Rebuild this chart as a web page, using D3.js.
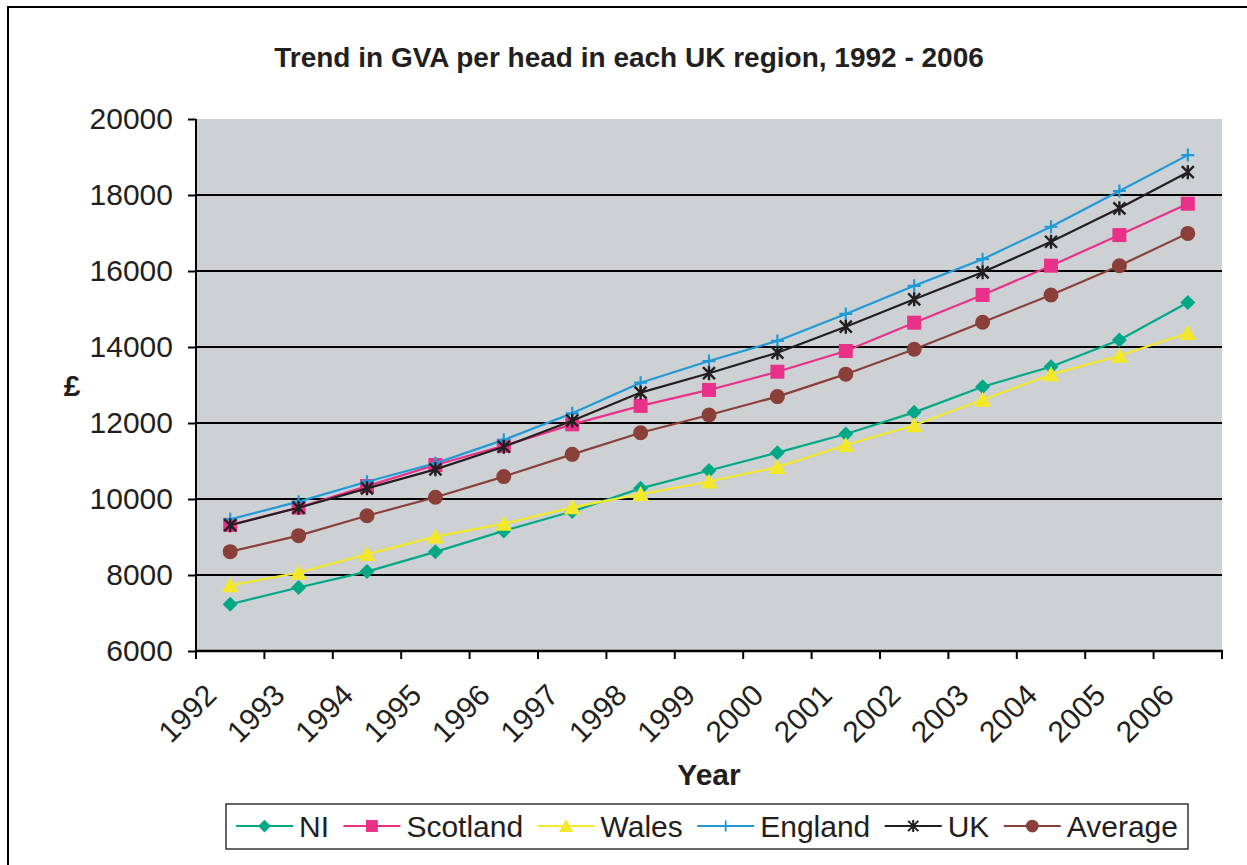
<!DOCTYPE html>
<html>
<head>
<meta charset="utf-8">
<script src="https://cdn.jsdelivr.net/npm/d3@7"></script>
<style>
  html, body { margin: 0; padding: 0; background: #fff; }
  svg { display: block; }
  text { font-family: "Liberation Sans", Arial, sans-serif; fill: #231F20; }
</style>
</head>
<body>
<svg id="chart" width="1247" height="865"></svg>
<script>
// ---- data ----
const years = ["1992","1993","1994","1995","1996","1997","1998","1999","2000","2001","2002","2003","2004","2005","2006"];
const ni       = [7230, 7670, 8090, 8610, 9160, 9670, 10280, 10750, 11220, 11710, 12280, 12955, 13480, 14185, 15170];
const scotland = [9320, 9775, 10340, 10895, 11400, 11965, 12450, 12870, 13350, 13895, 14640, 15370, 16140, 16945, 17770];
const wales    = [7730, 8060, 8550, 9010, 9350, 9780, 10130, 10460, 10840, 11420, 11940, 12610, 13280, 13770, 14370];
const england  = [9465, 9930, 10455, 10940, 11555, 12255, 13060, 13630, 14160, 14870, 15610, 16310, 17165, 18105, 19050];
const uk       = [9310, 9770, 10280, 10780, 11375, 12060, 12800, 13310, 13850, 14535, 15255, 15965, 16770, 17650, 18600];
const average  = [8615, 9035, 9560, 10045, 10590, 11175, 11745, 12210, 12695, 13285, 13940, 14650, 15370, 16140, 16990];
const yTicks = [6000, 8000, 10000, 12000, 14000, 16000, 18000, 20000];
const seriesNames = ["NI", "Scotland", "Wales", "England", "UK", "Average"];
const seriesValues = [ni, scotland, wales, england, uk, average];
const seriesColors = ["#00A888", "#EA3189", "#F3E92A", "#1F9AD7", "#231F20", "#8A4039"];
const seriesMarkers = ["diamond", "square", "triangle", "plus", "asterisk", "circle"];
const title = "Trend in GVA per head in each UK region, 1992 - 2006";
const xTitle = "Year";
const yTitle = "£";

// ---- layout ----
const svg = d3.select("#chart");
const plot = { left: 196, right: 1222, top: 119, bottom: 651 };

// outer frame
svg.append("rect").attr("x", 8).attr("y", 7).attr("width", 1300).attr("height", 950)
  .attr("fill", "none").attr("stroke", "#000").attr("stroke-width", 2);

const x = d3.scaleBand().domain(years).range([plot.left, plot.right]).padding(0);
const y = d3.scaleLinear().domain([6000, 20000]).range([plot.bottom, plot.top]);

// plot background
svg.append("rect").attr("x", plot.left).attr("y", plot.top)
  .attr("width", plot.right - plot.left).attr("height", plot.bottom - plot.top)
  .attr("fill", "#CDD1D4");

// gridlines
svg.append("g").selectAll("line").data(yTicks.filter(t => t > 6000 && t < 20000)).join("line")
  .attr("x1", plot.left).attr("x2", plot.right)
  .attr("y1", d => y(d)).attr("y2", d => y(d))
  .attr("stroke", "#000").attr("stroke-width", 2);

// y axis
const yAxis = svg.append("g").attr("transform", `translate(${plot.left},0)`)
  .call(d3.axisLeft(y).tickValues(yTicks).tickSize(8).tickPadding(15).tickFormat(d3.format("d")));
yAxis.select(".domain").attr("stroke", "#000").attr("stroke-width", 2).attr("d", `M0,${plot.top}V${plot.bottom}`);
yAxis.selectAll(".tick line").attr("stroke", "#000").attr("stroke-width", 2);
yAxis.selectAll(".tick text").attr("font-size", 30).attr("font-family", "Liberation Sans, Arial, sans-serif").attr("fill", "#231F20");

// x axis (ticks at category boundaries)
const boundaries = years.map(d => x(d)).concat([x(years[years.length - 1]) + x.bandwidth()]);
const xg = svg.append("g");
xg.append("line").attr("x1", plot.left - 1).attr("x2", plot.right + 1)
  .attr("y1", plot.bottom).attr("y2", plot.bottom).attr("stroke", "#000").attr("stroke-width", 2.5);
xg.selectAll("line.tk").data(boundaries).join("line").attr("class", "tk")
  .attr("x1", d => d).attr("x2", d => d).attr("y1", plot.bottom).attr("y2", plot.bottom + 8)
  .attr("stroke", "#000").attr("stroke-width", 2);
xg.selectAll("text").data(years).join("text")
  .attr("transform", d => `translate(${x(d) + x.bandwidth() / 2 - 12},697) rotate(-45)`)
  .attr("text-anchor", "end").attr("font-size", 30).text(d => d);

// titles
svg.append("text").attr("x", 629).attr("y", 67).attr("text-anchor", "middle")
  .attr("font-size", 28).attr("font-weight", "bold").text(title);
svg.append("text").attr("x", 709).attr("y", 785).attr("text-anchor", "middle")
  .attr("font-size", 30).attr("font-weight", "bold").text(xTitle);
svg.append("text").attr("x", 72).attr("y", 396).attr("text-anchor", "middle")
  .attr("font-size", 30).attr("font-weight", "bold").text(yTitle);

// marker drawing
function drawMarker(g, type, color) {
  if (type === "diamond") {
    g.append("path").attr("d", "M0,-7.5L7.5,0L0,7.5L-7.5,0Z").attr("fill", color);
  } else if (type === "square") {
    g.append("rect").attr("x", -7).attr("y", -7).attr("width", 14).attr("height", 14).attr("fill", color);
  } else if (type === "triangle") {
    g.append("path").attr("d", "M0,-8L8.5,7L-8.5,7Z").attr("fill", color);
  } else if (type === "plus") {
    g.append("path").attr("d", "M-6.5,0H6.5M0,-6.5V6.5").attr("stroke", color).attr("stroke-width", 2.2);
  } else if (type === "asterisk") {
    g.append("path").attr("d", "M-6,-6L6,6M-6,6L6,-6M0,-7V7").attr("stroke", color).attr("stroke-width", 2.4);
  } else if (type === "circle") {
    g.append("circle").attr("r", 7.5).attr("fill", color);
  }
}

// series
const line = d3.line().x((d, i) => x(years[i]) + x.bandwidth() / 2).y(d => y(d));
seriesValues.forEach((vals, si) => {
  const g = svg.append("g");
  g.append("path").attr("d", line(vals)).attr("fill", "none")
    .attr("stroke", seriesColors[si]).attr("stroke-width", 2.2);
  vals.forEach((v, i) => {
    const mg = g.append("g").attr("transform", `translate(${x(years[i]) + x.bandwidth() / 2},${y(v)})`);
    drawMarker(mg, seriesMarkers[si], seriesColors[si]);
  });
});

// legend
const legend = svg.append("g");
legend.append("rect").attr("x", 226).attr("y", 804).attr("width", 962).attr("height", 45)
  .attr("fill", "#fff").attr("stroke", "#333").attr("stroke-width", 1.5);
let lx = 236;
seriesNames.forEach((name, si) => {
  const item = legend.append("g");
  item.append("line").attr("x1", lx).attr("x2", lx + 57).attr("y1", 826).attr("y2", 826)
    .attr("stroke", seriesColors[si]).attr("stroke-width", 2.2);
  const mg = item.append("g").attr("transform", `translate(${lx + 28.5},826) scale(0.85)`);
  drawMarker(mg, seriesMarkers[si], seriesColors[si]);
  const t = item.append("text").attr("x", lx + 63).attr("y", 837).attr("font-size", 30).text(name);
  lx = lx + 63 + t.node().getComputedTextLength() + 14.4;
});
</script>
</body>
</html>
